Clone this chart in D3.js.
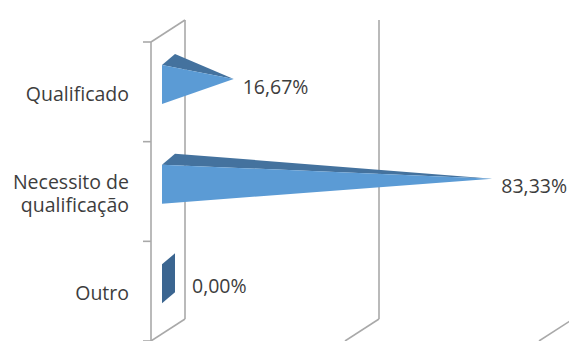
<!DOCTYPE html>
<html>
<head>
<meta charset="utf-8">
<script src="https://cdn.jsdelivr.net/npm/d3@7"></script>
<style>
  html, body { margin: 0; padding: 0; background: #fff; }
  svg { display: block; }
  text { font-family: "Open Sans", sans-serif; fill: #3d3d3d; }
</style>
</head>
<body>
<svg id="chart" width="569" height="341"></svg>
<script>
// Categories, values (%) and axis ticks
const categories = ["Qualificado", "Necessito de qualificação", "Outro"];
const values = [16.67, 83.33, 0];
const gridTicks = [0, 50, 100];

const svg = d3.select("#chart");

// Oblique 3D layout: front plane scales plus a depth offset for the back wall
const depthDx = 34, depthDy = 22;
const x = d3.scaleLinear().domain([0, 100]).range([151, 539]);
const y = d3.scaleBand().domain(categories).range([42, 341]);

const gridColor = "#a9a9a9";
const grid = svg.append("g").attr("stroke", gridColor).attr("stroke-width", 1.6).attr("fill", "none");

// Back-wall gridlines and their floor diagonals
gridTicks.forEach(t => {
  const bx = x(t) + depthDx;
  grid.append("line").attr("x1", bx).attr("x2", bx)
    .attr("y1", y.range()[0] - depthDy).attr("y2", y.range()[1] - depthDy);
  grid.append("line").attr("x1", bx).attr("y1", y.range()[1] - depthDy)
    .attr("x2", x(t)).attr("y2", y.range()[1]);
});

// Side wall: front edge, top edge and category ticks
grid.append("line").attr("x1", x(0)).attr("x2", x(0))
  .attr("y1", y.range()[0]).attr("y2", y.range()[1]);
grid.append("line").attr("x1", x(0)).attr("y1", y.range()[0])
  .attr("x2", x(0) + depthDx).attr("y2", y.range()[0] - depthDy);
const tickYs = categories.map(c => y(c)).concat([y.range()[1]]);
tickYs.forEach(ty => {
  grid.append("line").attr("x1", x(0) - 8).attr("x2", x(0)).attr("y1", ty).attr("y2", ty);
});

// Pyramid bars: square base standing at value 0, apex at the value
const colFront = "#5b9bd5", colTop = "#44729e", colBase = "#3b6590";
const baseInset = 11, baseDx = 13, baseDy = 11, baseTop = 23, baseBottom = 62;
const fmt = d3.formatLocale({ decimal: ",", thousands: ".", grouping: [3], currency: ["R$", ""] }).format(".2f");

const bars = svg.append("g");
categories.forEach((c, i) => {
  const v = values[i];
  const top = y(c);
  const fx = x(0) + baseInset;            // front edge of base
  const bx = fx + baseDx;                 // back edge of base
  const fTop = top + baseTop, fBot = top + baseBottom;
  const bTop = fTop - baseDy, bBot = fBot - baseDy;
  const ax = x(v) + (baseInset + baseDx / 2) + 0.5;
  const ay = top + (baseTop + baseBottom) / 2 - baseDy / 2;

  if (v > 0) {
    // top face
    bars.append("path")
      .attr("d", d3.line()([[fx, fTop], [bx, bTop], [ax, ay]]) + "Z")
      .attr("fill", colTop);
    // front face
    bars.append("path")
      .attr("d", d3.line()([[fx, fTop], [fx, fBot], [ax, ay]]) + "Z")
      .attr("fill", colFront);
  } else {
    // collapsed pyramid: only the base square remains
    bars.append("path")
      .attr("d", d3.line()([[fx, fTop], [bx, bTop], [bx, bBot], [fx, fBot]]) + "Z")
      .attr("fill", colBase);
  }

  const lx = v > 0 ? ax + 9 : bx + 17;
  svg.append("text")
    .attr("x", lx)
    .attr("y", top + y.bandwidth() / 2 - 5)
    .attr("dy", "0.35em")
    .attr("font-size", "19.5px")
    .text(fmt(v) + "%");
});

// Category labels, wrapped to fit left of the axis
const labels = svg.append("g").attr("font-size", "19.5px").attr("text-anchor", "end");
categories.forEach(c => {
  const words = c.split(" ");
  const probe = labels.append("text");
  const lines = [];
  let line = [];
  words.forEach(w => {
    line.push(w);
    probe.text(line.join(" "));
    if (probe.node().getComputedTextLength() > 122 && line.length > 1) {
      line.pop();
      lines.push(line.join(" "));
      line = [w];
    }
  });
  lines.push(line.join(" "));
  probe.remove();
  const lh = 23;
  const cy = y(c) + y.bandwidth() / 2;
  lines.forEach((s, k) => {
    labels.append("text").attr("x", 129)
      .attr("y", cy + 9 + (k - (lines.length - 1) / 2) * lh)
      .text(s);
  });
});
</script>
</body>
</html>
